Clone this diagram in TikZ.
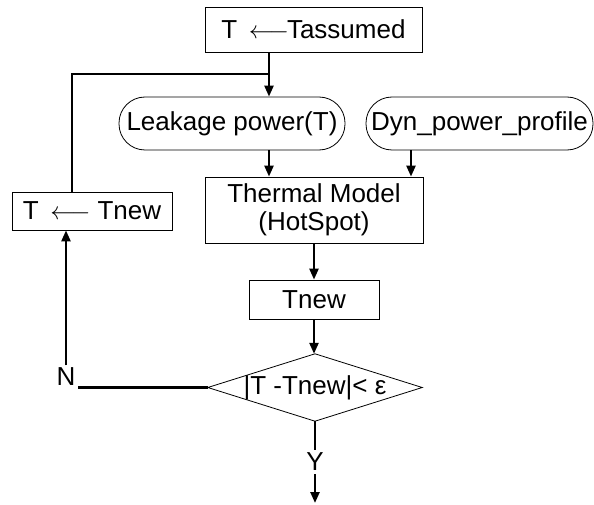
\documentclass[tikz,border=0pt]{standalone}
\usepackage{fontspec}
\setmainfont{Liberation Sans}
\usetikzlibrary{arrows.meta,calc}
\begin{document}
\begin{tikzpicture}[x=1pt,y=-1pt,
  every node/.style={font=\fontsize{26}{28.5}\selectfont, inner sep=0pt},
  box/.style={draw, line width=0.8pt},
  pill/.style={draw, line width=0.8pt, rounded corners=26pt},
  conn/.style={line width=2.4pt},
  arr/.style={conn, -{Triangle[length=11pt,width=9pt]}}]
\useasboundingbox (0,0) rectangle (594,505);
\node[box, minimum width=217pt, minimum height=45pt] (top) at (313.5,29.5) {T\, $\longleftarrow$\kern-2pt Tassumed};
\node[pill, minimum width=226pt, minimum height=53pt] (leak) at (232,123.5) {Leakage power(T)};
\node[pill, minimum width=227pt, minimum height=53pt] (dyn) at (479.5,123.5) {Dyn\_power\_profile};
\node[box, minimum width=218pt, minimum height=66pt, align=center] (therm) at (314,210) {Thermal Model\\(HotSpot)};
\node[box, minimum width=160pt, minimum height=38pt] (tl) at (92,211) {T\, $\longleftarrow$ Tnew};
\node[box, minimum width=130pt, minimum height=39pt] (tn) at (314,299.5) {Tnew};
\node[minimum width=214pt, minimum height=67pt] (dec) at (315,387.5) {|T -Tnew|< ε};
\draw[line width=0.8pt] (dec.west) -- (dec.north) -- (dec.east) -- (dec.south) -- cycle;
\node[inner sep=2.5pt] (N) at (66,377) {N};
\node[inner sep=3pt] (Y) at (315,462) {Y};
\coordinate (j) at (269,74);
\coordinate (fb) at (72,74);
\coordinate (k) at (411,0);
\coordinate (endp) at (315,503);
\draw[arr] (j |- top.south) -- (j |- leak.north);
\draw[conn] (fb |- tl.north) -- (fb) -- (j);
\draw[arr] (j |- leak.south) -- (j |- therm.north);
\draw[arr] (k |- dyn.south) -- (k |- therm.north);
\draw[arr] (therm.south -| tn.north) -- (tn.north);
\draw[arr] (tn.south) -- (tn.south |- dec.north);
\draw[conn] (dec.south) -- (Y.north);
\draw[arr] (Y.south) -- (endp);
\draw[conn] (dec.west) -- (dec.west -| N.east);
\draw[arr] (N.north) -- (N.north |- tl.south);
\end{tikzpicture}
\end{document}
